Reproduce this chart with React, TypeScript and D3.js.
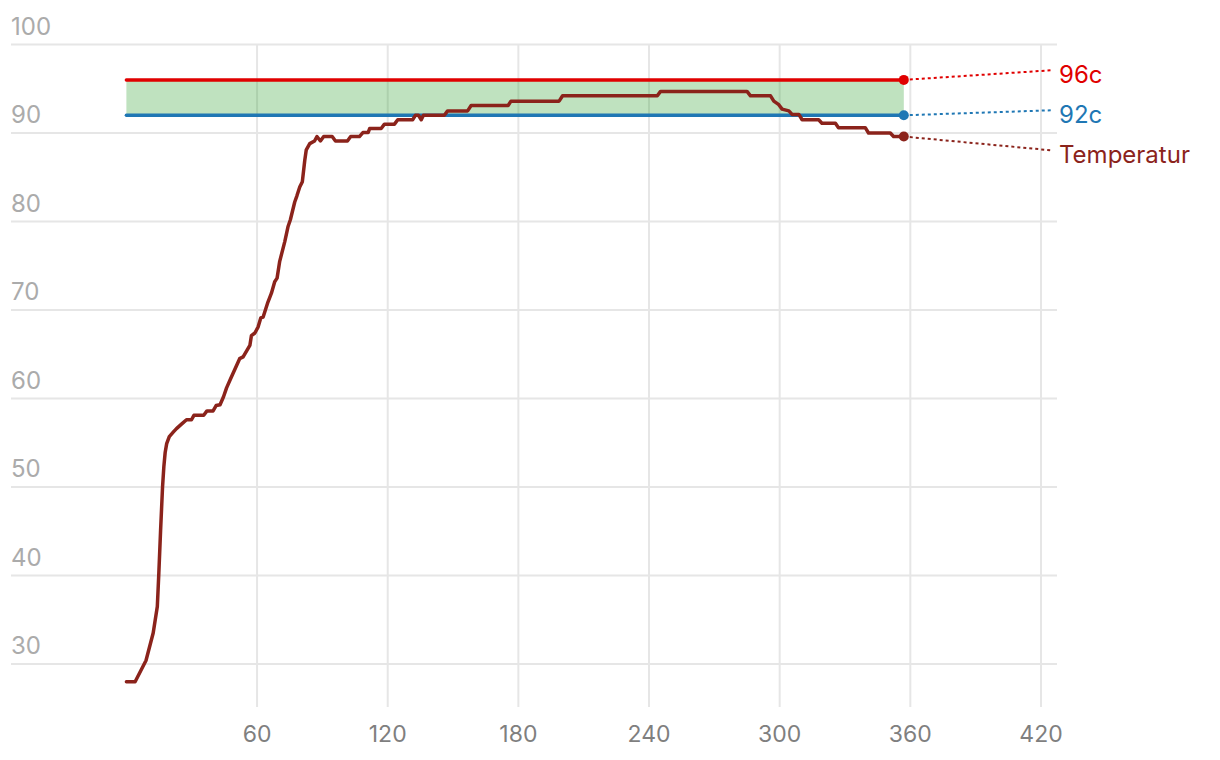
import React from "react";
import * as d3 from "d3";

const tempTimes = [0, 4, 9, 12.3, 14.2, 14.9, 15.7, 16.6, 17.2, 17.8, 18.5, 19.7, 21.5, 23, 25.3, 27.6, 29.9, 31, 35.5, 37, 39.8, 41.2, 43, 44.6, 46, 47.8, 52, 53.6, 56.7, 57.4, 59, 60.5, 61.7, 62.8, 65, 66.6, 68.1, 69.2, 70.4, 72.7, 74.2, 75.3, 77.3, 78.3, 79.6, 80.8, 81.9, 82.6, 84.2, 86.4, 87.5, 89.1, 90.6, 94.5, 96, 101.5, 103, 107, 108.6, 111, 111.7, 117, 118.5, 123.1, 124.6, 131.5, 132.7, 134.1, 135.4, 136.4, 146, 147.5, 156.7, 158.3, 175.3, 176.6, 198.7, 200.3, 243.8, 245.3, 285, 286.6, 295.8, 297.3, 299.6, 301.1, 304.2, 305.7, 308.8, 310.3, 317.9, 319.4, 325.6, 327, 339.3, 340.8, 350.8, 352.3, 357];
const tempValues = [28, 28, 30.4, 33.5, 36.5, 40.3, 45.1, 50, 52.3, 53.9, 54.9, 55.7, 56.2, 56.6, 57.1, 57.6, 57.6, 58.1, 58.1, 58.6, 58.6, 59.2, 59.3, 60.2, 61.2, 62.2, 64.5, 64.7, 66, 67.1, 67.4, 68.1, 69.1, 69.2, 70.9, 71.9, 73.2, 73.6, 75.5, 77.7, 79.4, 80.2, 82.2, 82.9, 83.9, 84.5, 86.9, 88.1, 88.8, 89.1, 89.6, 89.1, 89.6, 89.6, 89.1, 89.1, 89.6, 89.6, 90.05, 90.05, 90.5, 90.5, 91.0, 91.0, 91.5, 91.5, 92.0, 92.0, 91.5, 92.0, 92.0, 92.5, 92.5, 93.1, 93.1, 93.6, 93.6, 94.2, 94.2, 94.7, 94.7, 94.2, 94.2, 93.6, 93.2, 92.7, 92.5, 92.1, 92.1, 91.5, 91.5, 91.1, 91.1, 90.6, 90.6, 90.0, 90.0, 89.6, 89.6];

const upperLimit = 96;
const lowerLimit = 92;
const rangeStart = 0;
const rangeEnd = 357;

const xTicks = [60, 120, 180, 240, 300, 360, 420];
const yTicks = [30, 40, 50, 60, 70, 80, 90, 100];

const seriesLabels = ["96c", "92c", "Temperatur"];

const RED = "#e00000";
const BLUE = "#1f77b4";
const BROWN = "#8b231b";
const FONT = "Inter, 'Noto Sans', sans-serif";

export default function App() {
  const x = d3.scaleLinear().domain([0, 420]).range([126.4, 1041]);
  const y = d3.scaleLinear().domain([30, 100]).range([664, 44.5]);
  const gridLeft = 11;
  const gridRight = 1057;
  const gridBottom = 707;

  const tempData = tempTimes.map((t, i) => [t, tempValues[i]] as [number, number]);
  const line = d3
    .line<[number, number]>()
    .x((d) => x(d[0]))
    .y((d) => y(d[1]))
    .curve(d3.curveLinear);

  const band = d3
    .area<number>()
    .x((d) => x(d))
    .y0(() => y(lowerLimit))
    .y1(() => y(upperLimit));

  const lastTemp = tempValues[tempValues.length - 1];
  const endX = x(rangeEnd);
  const endYs = [y(upperLimit), y(lowerLimit), y(lastTemp)];
  const colors = [RED, BLUE, BROWN];
  const labelGap = 40;
  const labelCenter = y(lowerLimit);
  const labelYs = [labelCenter - labelGap, labelCenter, labelCenter + labelGap];
  const labelX = 1059;
  const lineEndX = 1051;

  return (
    <svg
      width={1220}
      height={760}
      style={{ position: "absolute", left: 0, top: 0, background: "#fff" }}
      fontFamily={FONT}
    >
      {yTicks.map((t) => (
        <g key={"y" + t}>
          <line x1={gridLeft} x2={gridRight} y1={y(t)} y2={y(t)} stroke="#e6e6e6" strokeWidth={2} />
          <text x={gridLeft} y={y(t) - 10} fontSize={24} fill="#ababab">
            {t}
          </text>
        </g>
      ))}
      {xTicks.map((t) => (
        <g key={"x" + t}>
          <line x1={x(t)} x2={x(t)} y1={y(100)} y2={gridBottom} stroke="#e6e6e6" strokeWidth={2} />
          <text x={x(t)} y={742} fontSize={23} fill="#7f7f7f" textAnchor="middle">
            {t}
          </text>
        </g>
      ))}
      <path d={band([rangeStart, rangeEnd]) || ""} fill="#2ca02c" fillOpacity={0.3} />
      <line x1={x(rangeStart)} x2={endX} y1={y(upperLimit)} y2={y(upperLimit)} stroke={RED} strokeWidth={3.5} strokeLinecap="round" />
      <line x1={x(rangeStart)} x2={endX} y1={y(lowerLimit)} y2={y(lowerLimit)} stroke={BLUE} strokeWidth={3.5} strokeLinecap="round" />
      <path d={line(tempData) || ""} fill="none" stroke={BROWN} strokeWidth={3.5} strokeLinejoin="round" strokeLinecap="round" />
      {seriesLabels.map((lab, i) => (
        <g key={lab}>
          <line
            x1={endX}
            y1={endYs[i]}
            x2={lineEndX}
            y2={labelYs[i] - 5}
            stroke={colors[i]}
            strokeWidth={2}
            strokeDasharray="3,3"
          />
          <circle cx={endX} cy={endYs[i]} r={5} fill={colors[i]} />
          <text x={labelX} y={labelYs[i] + 8} fontSize={24} fill={colors[i]}>
            {lab}
          </text>
        </g>
      ))}
    </svg>
  );
}
